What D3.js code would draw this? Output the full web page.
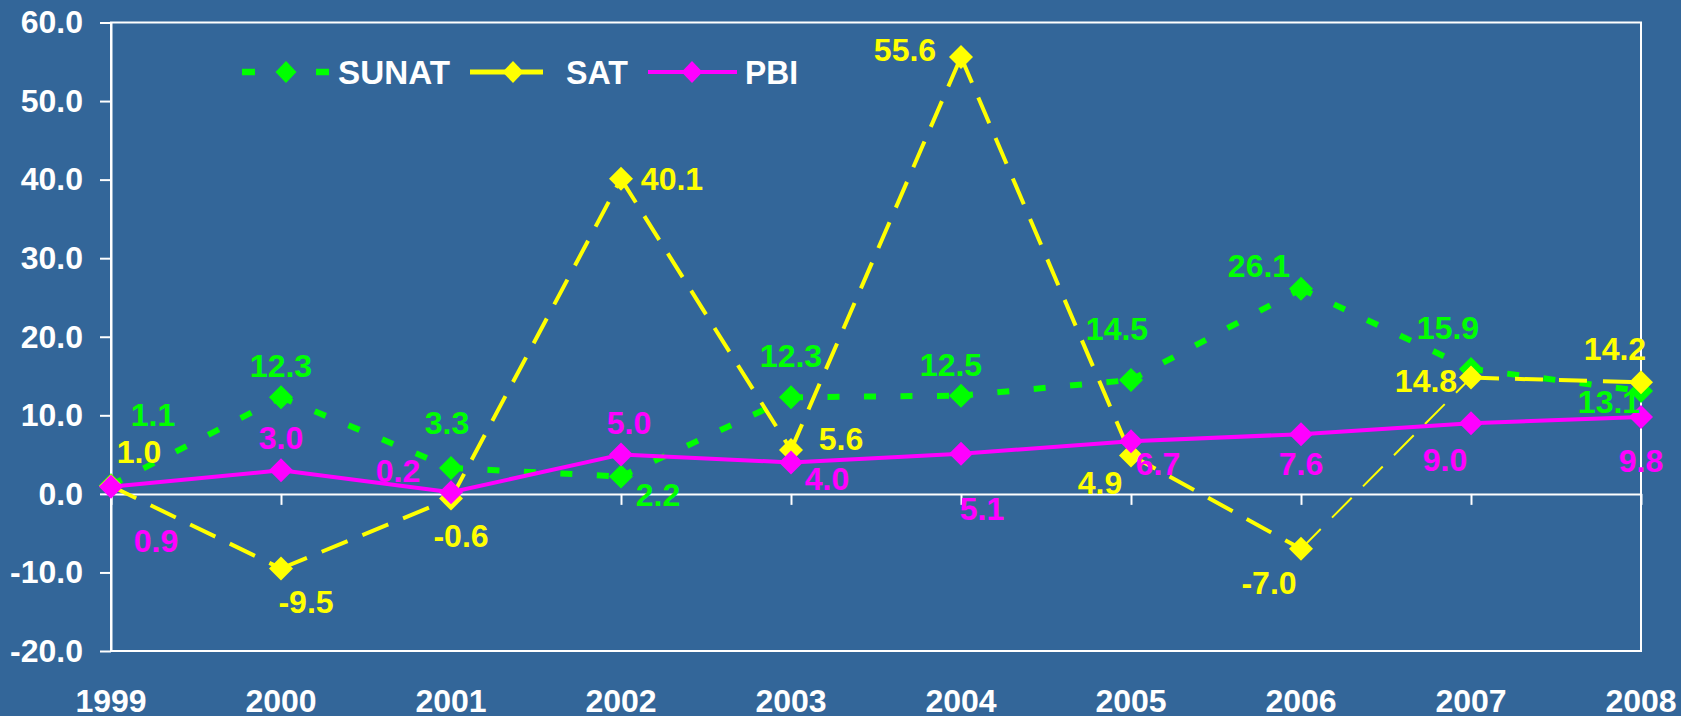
<!DOCTYPE html>
<html><head><meta charset="utf-8">
<script src="https://cdn.jsdelivr.net/npm/d3@7"></script>
<style>html,body{margin:0;padding:0;background:#336699;} svg{display:block}</style>
</head><body><svg id="c" width="1681" height="716"></svg>
<script>
// ---- data ----
const years = ["1999","2000","2001","2002","2003","2004","2005","2006","2007","2008"];
const sunat = [1.1, 12.3, 3.3, 2.2, 12.3, 12.5, 14.5, 26.1, 15.9, 13.1];
const sat   = [1.0, -9.5, -0.6, 40.1, 5.6, 55.6, 4.9, -7.0, 14.8, 14.2];
const pbi   = [0.9, 3.0, 0.2, 5.0, 4.0, 5.1, 6.7, 7.6, 9.0, 9.8];
const yTicks = [60, 50, 40, 30, 20, 10, 0, -10, -20];
const seriesNames = ["SUNAT", "SAT", "PBI"];

// ---- label placement (offsets from the point, to the label centre) ----
const sunatLabelOff = [[42,-71],[0,-32],[-4,-45],[37,18],[0,-42],[-10,-31],[-14,-51],[-42,-23],[-23,-41],[-32,11]];
const satLabelOff   = [[28,-35],[25,33],[10,37],[51,0],[50,-11],[-56,-8],[-31,27],[-32,34],[-45,3],[-26,-34]];
const pbiLabelOff   = [[45,54],[0,-33],[-53,-22],[8,-32],[36,16],[21,55],[27,22],[0,29],[-26,36],[0,44]];

const svg = d3.select("#c");
const W = 1681, H = 716;
svg.append("rect").attr("width", W).attr("height", H).attr("fill", "#336699");

const x = d3.scalePoint().domain(years).range([111, 1641]);
const y = d3.scaleLinear().domain([-20, 60]).range([651, 22.5]);

const FONT = "'Liberation Sans', Arial, Helvetica, sans-serif";

// frame
svg.append("rect").attr("x", 111).attr("y", y(60)).attr("width", 1641 - 111).attr("height", y(-20) - y(60))
  .attr("fill", "none").attr("stroke", "#fff").attr("stroke-width", 2);

// y axis
const ya = svg.append("g").attr("transform", "translate(111,0)")
  .call(d3.axisLeft(y).tickValues(yTicks).tickFormat(d => d.toFixed(1)).tickSize(11).tickSizeOuter(0).tickPadding(17));
ya.selectAll("path,line").attr("stroke", "#fff").attr("stroke-width", 2);
ya.selectAll("text").attr("fill", "#fff").attr("font-family", FONT).attr("font-weight", "bold").attr("font-size", 32);

// x axis at zero
const xa = svg.append("g").attr("transform", `translate(0,${y(0)})`)
  .call(d3.axisBottom(x).tickFormat("").tickSize(11).tickSizeOuter(0));
xa.selectAll("path,line").attr("stroke", "#fff").attr("stroke-width", 2);

// x labels
svg.append("g").selectAll("text").data(years).join("text")
  .attr("x", d => x(d)).attr("y", 712).attr("text-anchor", "middle")
  .attr("fill", "#fff").attr("font-family", FONT).attr("font-weight", "bold").attr("font-size", 32)
  .text(d => d);

const diamond = r => `M0,${-r}L${r},0L0,${r}L${-r},0Z`;

function drawSeries(vals, color, width, dash, widthFn) {
  const pts = vals.map((v, i) => [x(years[i]), y(v)]);
  const g = svg.append("g");
  g.selectAll("line").data(d3.pairs(pts)).join("line")
    .attr("x1", d => d[0][0]).attr("y1", d => d[0][1])
    .attr("x2", d => d[1][0]).attr("y2", d => d[1][1])
    .attr("stroke", color).attr("stroke-width", (d, i) => widthFn ? widthFn(i) : width)
    .attr("stroke-dasharray", dash);
  g.selectAll("path").data(pts).join("path")
    .attr("transform", d => `translate(${d[0]},${d[1]})`)
    .attr("d", diamond(12)).attr("fill", color);
  return pts;
}

const GREEN = "#00ff00", YELLOW = "#ffff00", MAGENTA = "#ff00ff";
const pS = drawSeries(sunat, GREEN, 6, "12,24.5");
const pT = drawSeries(sat, YELLOW, 4, "28,16", i => i === 7 ? 2 : 4);
const pP = drawSeries(pbi, MAGENTA, 4, null);

function drawLabels(vals, pts, offs, color) {
  svg.append("g").selectAll("text").data(vals).join("text")
    .attr("x", (d, i) => pts[i][0] + offs[i][0])
    .attr("y", (d, i) => pts[i][1] + offs[i][1] + 11.5)
    .attr("text-anchor", "middle")
    .attr("fill", color).attr("font-family", FONT).attr("font-weight", "bold").attr("font-size", 32)
    .text(d => d.toFixed(1));
}
drawLabels(sunat, pS, sunatLabelOff, GREEN);
drawLabels(sat, pT, satLabelOff, YELLOW);
drawLabels(pbi, pP, pbiLabelOff, MAGENTA);

// legend
const lg = svg.append("g");
const legendItems = [
  {name: seriesNames[0], color: GREEN, x1: 242, x2: 329, mx: 286, dash: "13,61", w: 6.5, tx: 338, tl: 112},
  {name: seriesNames[1], color: YELLOW, x1: 470, x2: 543, mx: 513, dash: null, w: 5, tx: 566, tl: 62},
  {name: seriesNames[2], color: MAGENTA, x1: 648, x2: 737, mx: 692, dash: null, w: 4, tx: 745, tl: 53}
];
const ly = 72;
legendItems.forEach(it => {
  lg.append("line").attr("x1", it.x1).attr("x2", it.x2).attr("y1", ly).attr("y2", ly)
    .attr("stroke", it.color).attr("stroke-width", it.w).attr("stroke-dasharray", it.dash);
  lg.append("path").attr("transform", `translate(${it.mx},${ly})`).attr("d", "M0,-11L10.5,0L0,11L-10.5,0Z").attr("fill", it.color);
  lg.append("text").attr("x", it.tx).attr("y", 84)
    .attr("fill", "#fff").attr("font-family", FONT).attr("font-weight", "bold").attr("font-size", 33)
    .attr("textLength", it.tl).attr("lengthAdjust", "spacingAndGlyphs")
    .text(it.name);
});
</script>
</body></html>
